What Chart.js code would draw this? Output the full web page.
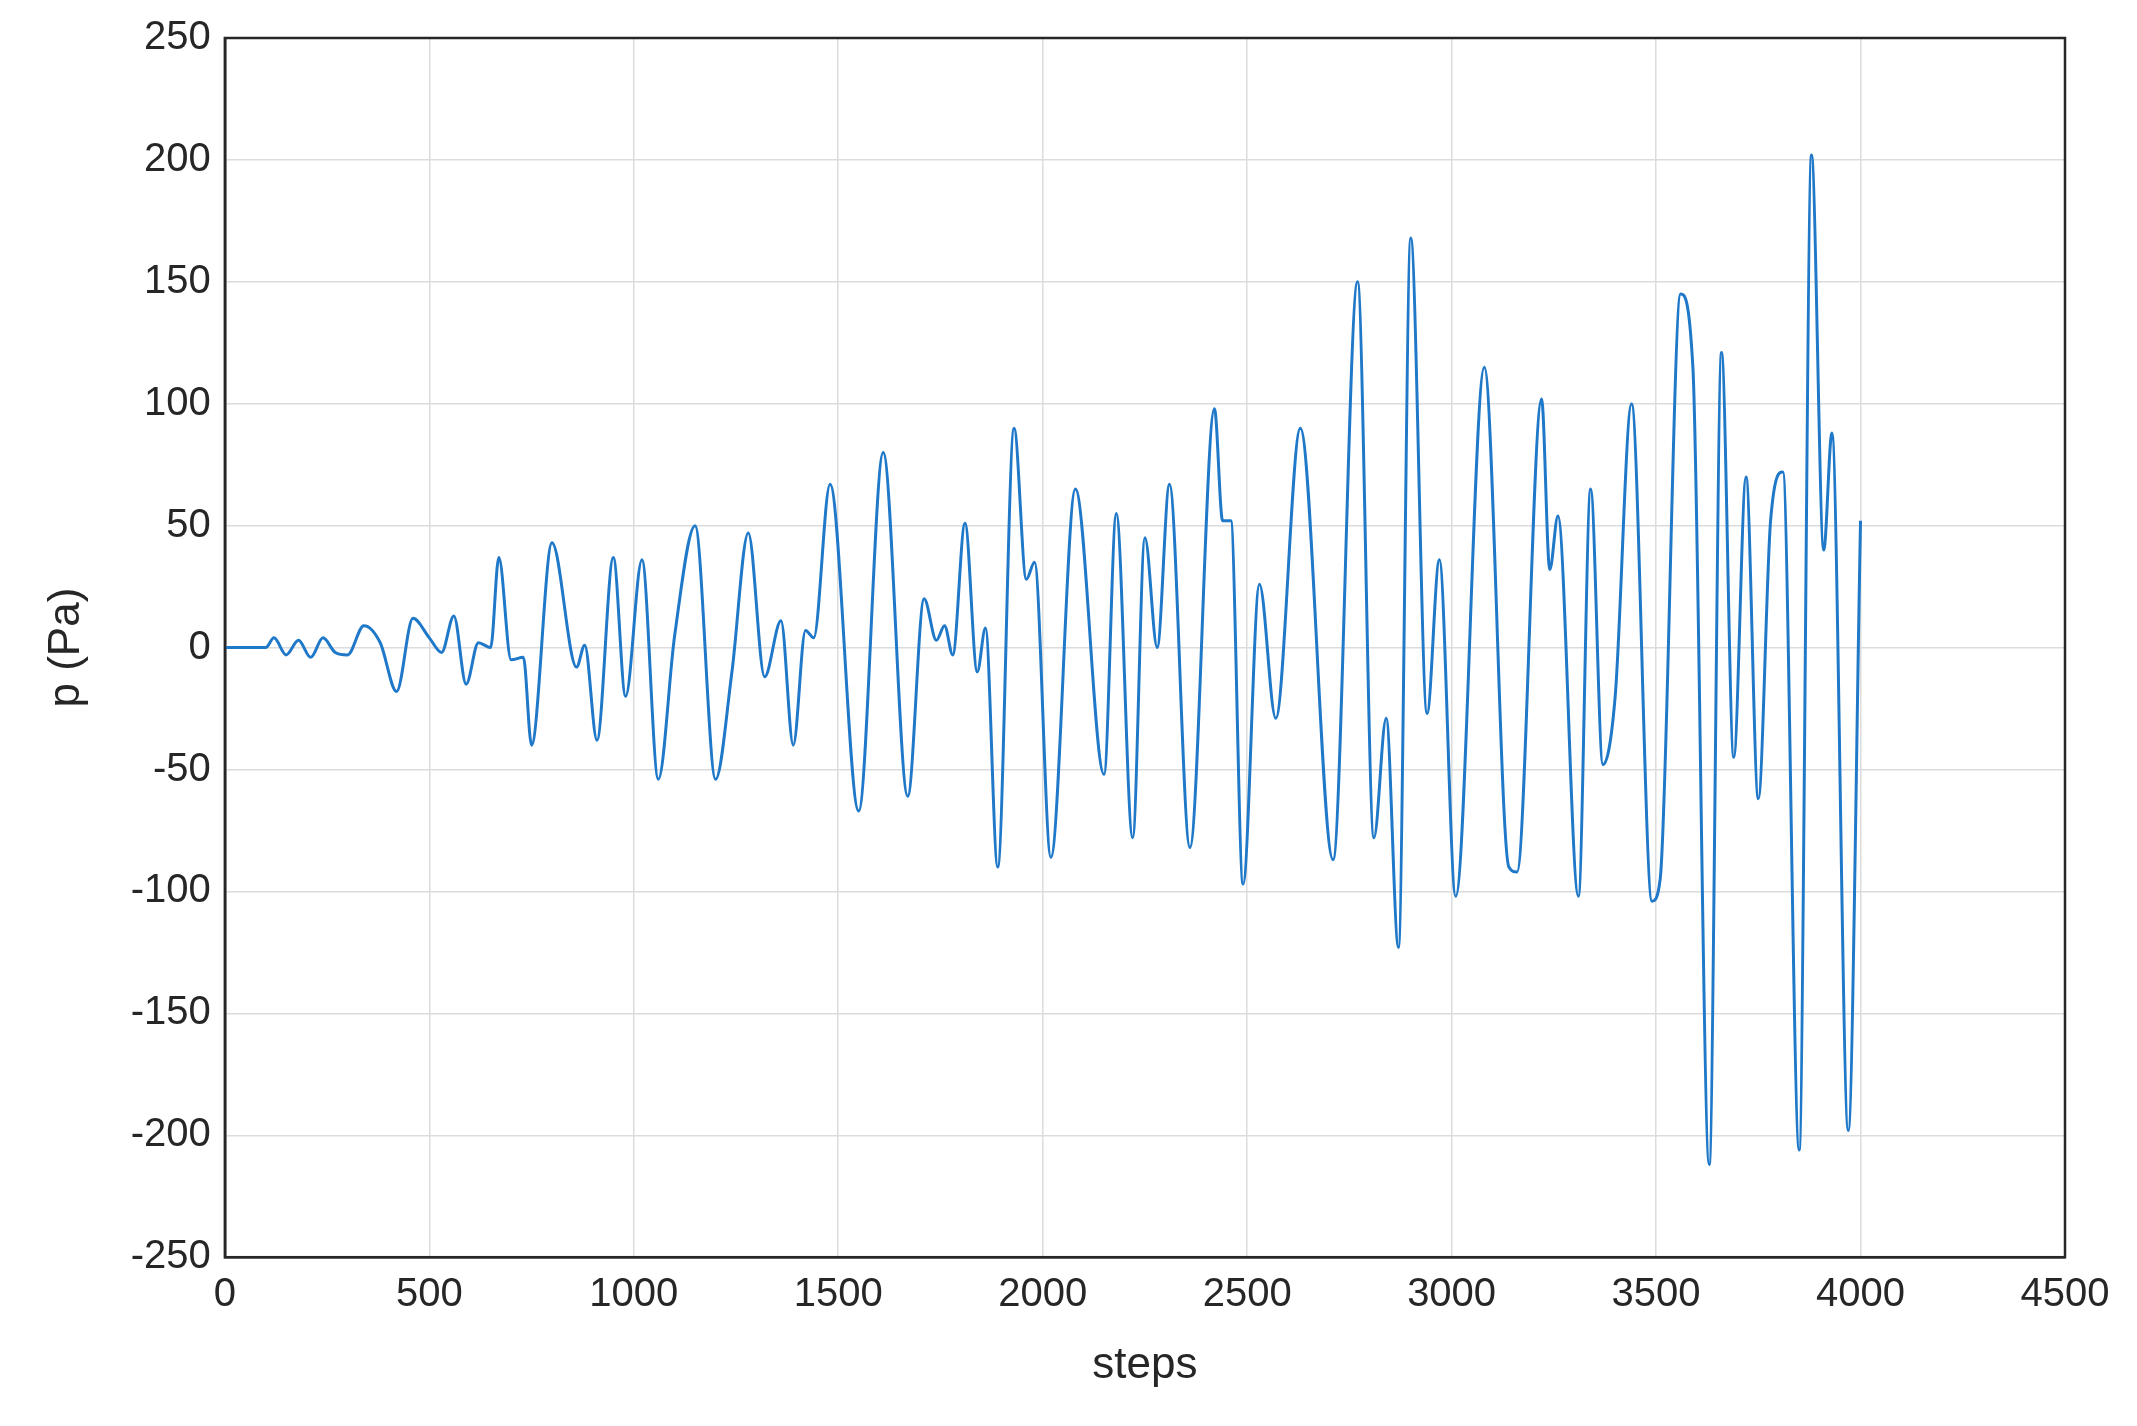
<!DOCTYPE html>
<html><head><meta charset="utf-8">
<script src="https://cdn.jsdelivr.net/npm/chart.js@4/dist/chart.umd.min.js"></script>
<style>html,body{margin:0;padding:0;background:#fff}#w{width:2137px;height:1426px}</style>
</head><body><div id="w"><canvas id="c"></canvas></div>
<script>
const steps=[0,100,120,150,180,210,240,270,300,340,380,420,460,500,530,560,590,620,650,670,700,730,750,800,860,880,910,950,980,1020,1060,1100,1150,1200,1240,1280,1320,1360,1390,1420,1440,1480,1550,1610,1670,1710,1740,1760,1780,1810,1840,1860,1890,1930,1960,1980,2020,2080,2150,2180,2220,2250,2280,2310,2360,2420,2440,2460,2490,2530,2570,2630,2710,2770,2810,2840,2870,2900,2940,2970,3010,3080,3140,3160,3220,3240,3260,3310,3340,3370,3400,3440,3490,3510,3560,3590,3630,3660,3690,3720,3750,3780,3810,3850,3880,3910,3930,3970,4000];
const pressure=[0,0,4,-3,3,-4,4,-2,-3,9,2,-18,12,4,-2,13,-15,2,0,37,-5,-4,-40,43,-8,1,-38,37,-20,36,-54,5,50,-54,-10,47,-12,11,-40,7,4,67,-67,80,-61,20,3,9,-3,51,-10,8,-90,90,28,35,-86,65,-52,55,-78,45,0,67,-82,98,52,52,-97,26,-29,90,-87,150,-78,-29,-123,168,-27,36,-102,115,-90,-92,102,32,54,-102,65,-48,-20,100,-104,-95,145,115,-212,121,-45,70,-62,52,72,-206,202,40,88,-198,52];
const xTicks=[0,500,1000,1500,2000,2500,3000,3500,4000,4500];
const yTicks=[-250,-200,-150,-100,-50,0,50,100,150,200,250];
const box={id:'box',afterDraw(ch){const a=ch.chartArea,x=ch.ctx;x.save();x.strokeStyle='#262626';x.lineWidth=2.5;x.strokeRect(a.left,a.top,a.right-a.left,a.bottom-a.top);x.restore();}};
const font={family:'Liberation Sans, Arial, sans-serif',size:40};
new Chart(document.getElementById('c'),{type:'line',
data:{datasets:[{data:steps.map((s,i)=>({x:s,y:pressure[i]})),borderColor:'#1f78c8',borderWidth:3,pointRadius:0,tension:0.4,cubicInterpolationMode:'monotone'}]},
options:{responsive:true,maintainAspectRatio:false,animation:false,
layout:{padding:{top:22,right:72,left:36,bottom:30}},
plugins:{legend:{display:false},tooltip:{enabled:false}},
scales:{
x:{type:'linear',min:0,max:4500,afterBuildTicks:a=>{a.ticks=xTicks.map(v=>({value:v}))},
 grid:{color:'#dcdcdc',lineWidth:1.5,drawTicks:false},border:{color:'#262626',width:2.5},
 ticks:{color:'#262626',font,padding:14,maxRotation:0,callback:v=>String(v)},
 title:{display:true,text:'steps',color:'#262626',font:{...font,size:44},padding:{top:6}}},
y:{min:-250,max:250,afterBuildTicks:a=>{a.ticks=yTicks.map(v=>({value:v}))},
 grid:{color:'#dcdcdc',lineWidth:1.5,drawTicks:false},border:{color:'#262626',width:2.5},
 ticks:{color:'#262626',font,padding:14,callback:v=>String(v)},
 title:{display:true,text:'p (Pa)',color:'#262626',font:{...font,size:44},padding:{bottom:24}}}}},
plugins:[box]});
</script></body></html>
